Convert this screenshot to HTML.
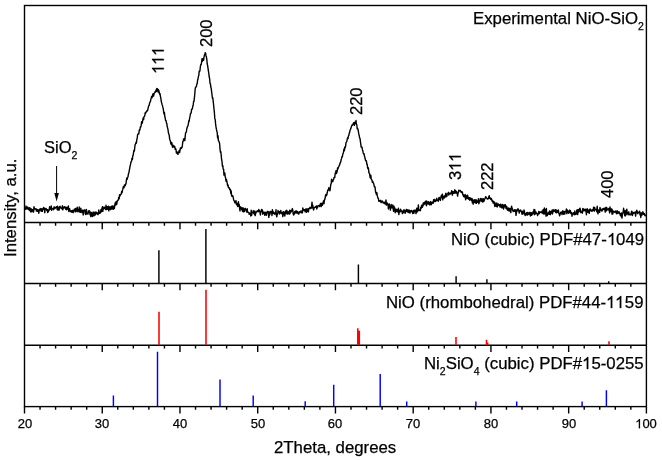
<!DOCTYPE html>
<html><head><meta charset="utf-8"><style>
html,body{margin:0;padding:0;background:#fff;}
body{width:662px;height:460px;overflow:hidden;position:relative;font-family:"Liberation Sans", sans-serif;color:#000;-webkit-text-stroke:0.25px #000;}
svg{position:absolute;left:0;top:0;}
.t{will-change:transform;position:absolute;white-space:nowrap;font-size:16.5px;line-height:1;}
.tl{will-change:transform;position:absolute;white-space:nowrap;font-size:13px;line-height:1;transform:translateX(-50%);}
.r{will-change:transform;position:absolute;white-space:nowrap;font-size:16.5px;line-height:1;transform-origin:0 0;transform:rotate(-90deg);}
.o1{width:0.5562em;height:0.71875em;vertical-align:baseline;fill:currentColor;display:inline-block;overflow:visible;position:static;}
.o1 path{stroke:currentColor;stroke-width:32;stroke-linejoin:round;}
sub{font-size:10.5px;vertical-align:baseline;position:relative;top:5.5px;line-height:0;}
.rt{font-size:16.8px;}
.yl{font-size:16.75px;}
</style></head><body>
<svg width="662" height="460" viewBox="0 0 662 460">
<rect x="24.5" y="5.5" width="621.90" height="401.10" fill="none" stroke="#000" stroke-width="1.4"/>
<line x1="24.5" y1="222.5" x2="646.4" y2="222.5" stroke="#000" stroke-width="1.4"/>
<line x1="24.5" y1="283.5" x2="646.4" y2="283.5" stroke="#000" stroke-width="1.4"/>
<line x1="24.5" y1="345.2" x2="646.4" y2="345.2" stroke="#000" stroke-width="1.4"/>
<path d="M40.05,222.5v3.2 M55.59,222.5v3.2 M71.14,222.5v3.2 M86.69,222.5v3.2 M102.24,222.5v6.8 M117.78,222.5v3.2 M133.33,222.5v3.2 M148.88,222.5v3.2 M164.43,222.5v3.2 M179.97,222.5v6.8 M195.52,222.5v3.2 M211.07,222.5v3.2 M226.62,222.5v3.2 M242.17,222.5v3.2 M257.71,222.5v6.8 M273.26,222.5v3.2 M288.81,222.5v3.2 M304.35,222.5v3.2 M319.90,222.5v3.2 M335.45,222.5v6.8 M351.00,222.5v3.2 M366.54,222.5v3.2 M382.09,222.5v3.2 M397.64,222.5v3.2 M413.19,222.5v6.8 M428.74,222.5v3.2 M444.28,222.5v3.2 M459.83,222.5v3.2 M475.38,222.5v3.2 M490.93,222.5v6.8 M506.47,222.5v3.2 M522.02,222.5v3.2 M537.57,222.5v3.2 M553.12,222.5v3.2 M568.66,222.5v6.8 M584.21,222.5v3.2 M599.76,222.5v3.2 M615.31,222.5v3.2 M630.85,222.5v3.2 M40.05,283.5v3.2 M55.59,283.5v3.2 M71.14,283.5v3.2 M86.69,283.5v3.2 M102.24,283.5v6.8 M117.78,283.5v3.2 M133.33,283.5v3.2 M148.88,283.5v3.2 M164.43,283.5v3.2 M179.97,283.5v6.8 M195.52,283.5v3.2 M211.07,283.5v3.2 M226.62,283.5v3.2 M242.17,283.5v3.2 M257.71,283.5v6.8 M273.26,283.5v3.2 M288.81,283.5v3.2 M304.35,283.5v3.2 M319.90,283.5v3.2 M335.45,283.5v6.8 M351.00,283.5v3.2 M366.54,283.5v3.2 M382.09,283.5v3.2 M397.64,283.5v3.2 M413.19,283.5v6.8 M428.74,283.5v3.2 M444.28,283.5v3.2 M459.83,283.5v3.2 M475.38,283.5v3.2 M490.93,283.5v6.8 M506.47,283.5v3.2 M522.02,283.5v3.2 M537.57,283.5v3.2 M553.12,283.5v3.2 M568.66,283.5v6.8 M584.21,283.5v3.2 M599.76,283.5v3.2 M615.31,283.5v3.2 M630.85,283.5v3.2 M40.05,345.2v3.2 M55.59,345.2v3.2 M71.14,345.2v3.2 M86.69,345.2v3.2 M102.24,345.2v6.8 M117.78,345.2v3.2 M133.33,345.2v3.2 M148.88,345.2v3.2 M164.43,345.2v3.2 M179.97,345.2v6.8 M195.52,345.2v3.2 M211.07,345.2v3.2 M226.62,345.2v3.2 M242.17,345.2v3.2 M257.71,345.2v6.8 M273.26,345.2v3.2 M288.81,345.2v3.2 M304.35,345.2v3.2 M319.90,345.2v3.2 M335.45,345.2v6.8 M351.00,345.2v3.2 M366.54,345.2v3.2 M382.09,345.2v3.2 M397.64,345.2v3.2 M413.19,345.2v6.8 M428.74,345.2v3.2 M444.28,345.2v3.2 M459.83,345.2v3.2 M475.38,345.2v3.2 M490.93,345.2v6.8 M506.47,345.2v3.2 M522.02,345.2v3.2 M537.57,345.2v3.2 M553.12,345.2v3.2 M568.66,345.2v6.8 M584.21,345.2v3.2 M599.76,345.2v3.2 M615.31,345.2v3.2 M630.85,345.2v3.2 M40.05,406.6v3.2 M55.59,406.6v3.2 M71.14,406.6v3.2 M86.69,406.6v3.2 M102.24,406.6v6.8 M117.78,406.6v3.2 M133.33,406.6v3.2 M148.88,406.6v3.2 M164.43,406.6v3.2 M179.97,406.6v6.8 M195.52,406.6v3.2 M211.07,406.6v3.2 M226.62,406.6v3.2 M242.17,406.6v3.2 M257.71,406.6v6.8 M273.26,406.6v3.2 M288.81,406.6v3.2 M304.35,406.6v3.2 M319.90,406.6v3.2 M335.45,406.6v6.8 M351.00,406.6v3.2 M366.54,406.6v3.2 M382.09,406.6v3.2 M397.64,406.6v3.2 M413.19,406.6v6.8 M428.74,406.6v3.2 M444.28,406.6v3.2 M459.83,406.6v3.2 M475.38,406.6v3.2 M490.93,406.6v6.8 M506.47,406.6v3.2 M522.02,406.6v3.2 M537.57,406.6v3.2 M553.12,406.6v3.2 M568.66,406.6v6.8 M584.21,406.6v3.2 M599.76,406.6v3.2 M615.31,406.6v3.2 M630.85,406.6v3.2 M24.50,406.6v6.8 M646.40,406.6v6.8" stroke="#000" stroke-width="1.4" fill="none"/>
<path d="M158.90,283.5V250.19 M205.90,283.5V228.90 M358.40,283.5V264.39 M456.10,283.5V276.18 M486.90,283.5V279.13 M608.70,283.5V281.32" stroke="#000" stroke-width="1.45" fill="none"/>
<path d="M159.00,345.2V311.79 M206.00,345.2V289.80 M357.80,345.2V328.25 M359.30,345.2V330.85 M456.00,345.2V337.11 M486.50,345.2V339.83 M487.60,345.2V342.43 M609.00,345.2V341.32" stroke="#ff0000" stroke-width="1.55" fill="none"/>
<path d="M113.40,406.6V395.62 M157.50,406.6V351.70 M220.00,406.6V379.59 M253.20,406.6V395.62 M305.20,406.6V401.22 M333.70,406.6V384.86 M380.20,406.6V373.99 M406.70,406.6V401.55 M475.90,406.6V401.55 M516.70,406.6V401.44 M582.10,406.6V401.44 M606.40,406.6V390.13" stroke="#0000ff" stroke-width="1.45" fill="none"/>
<path d="M24.80,208.21 25.20,209.28 25.60,208.69 26.00,206.02 26.40,208.93 26.80,208.79 27.20,208.66 27.60,206.86 28.00,208.79 28.40,209.64 28.80,209.67 29.20,207.66 29.60,210.61 30.00,207.97 30.40,209.59 30.80,212.01 31.20,208.83 31.60,209.14 32.00,211.71 32.40,209.76 32.80,209.76 33.20,210.52 33.60,211.96 34.00,206.71 34.40,209.04 34.80,208.95 35.20,208.63 35.60,208.97 36.00,209.05 36.40,210.99 36.80,209.20 37.20,210.54 37.60,211.31 38.00,209.60 38.40,210.80 38.80,213.26 39.20,210.78 39.60,209.15 40.00,210.02 40.40,208.56 40.80,210.27 41.20,211.34 41.60,208.76 42.00,209.48 42.40,211.29 42.80,208.62 43.20,209.46 43.60,207.43 44.00,207.78 44.40,208.41 44.80,212.80 45.20,208.87 45.60,208.63 46.00,208.37 46.40,209.01 46.80,210.38 47.20,209.72 47.60,212.49 48.00,209.95 48.40,211.84 48.80,209.87 49.20,210.14 49.60,206.80 50.00,208.99 50.40,209.19 50.80,208.91 51.20,205.83 51.60,210.39 52.00,208.63 52.40,208.45 52.80,208.78 53.20,208.60 53.60,209.74 54.00,206.88 54.40,207.09 54.80,208.65 55.20,208.13 55.60,207.32 56.00,207.22 56.40,206.71 56.80,207.59 57.20,209.50 57.60,206.13 58.00,210.25 58.40,209.19 58.80,207.67 59.20,210.00 59.60,206.54 60.00,206.33 60.40,207.03 60.80,207.90 61.20,208.26 61.60,207.99 62.00,209.10 62.40,205.72 62.80,209.81 63.20,206.90 63.60,207.97 64.00,208.01 64.40,206.92 64.80,206.72 65.20,206.99 65.60,208.86 66.00,209.52 66.40,209.79 66.80,207.18 67.20,207.64 67.60,207.50 68.00,209.50 68.40,205.97 68.80,211.57 69.20,209.16 69.60,208.65 70.00,210.73 70.40,211.56 70.80,211.00 71.20,211.94 71.60,210.70 72.00,212.19 72.40,212.14 72.80,210.17 73.20,212.59 73.60,210.43 74.00,210.52 74.40,209.07 74.80,210.01 75.20,211.81 75.60,208.37 76.00,211.54 76.40,211.07 76.80,211.09 77.20,207.18 77.60,210.56 78.00,211.84 78.40,209.62 78.80,210.67 79.20,206.95 79.60,212.07 80.00,209.87 80.40,212.37 80.80,208.12 81.20,211.91 81.60,210.69 82.00,212.60 82.40,210.11 82.80,210.27 83.20,214.99 83.60,210.33 84.00,210.52 84.40,210.86 84.80,209.79 85.20,213.58 85.60,214.51 86.00,211.08 86.40,209.41 86.80,213.98 87.20,213.84 87.60,213.67 88.00,214.13 88.40,211.05 88.80,212.24 89.20,210.73 89.60,211.03 90.00,214.74 90.40,212.16 90.80,216.65 91.20,213.35 91.60,212.49 92.00,214.90 92.40,216.53 92.80,214.61 93.20,212.02 93.60,214.65 94.00,215.91 94.40,212.97 94.80,212.17 95.20,215.14 95.60,213.95 96.00,211.87 96.40,213.06 96.80,212.63 97.20,213.93 97.60,213.14 98.00,214.68 98.40,213.58 98.80,209.99 99.20,212.87 99.60,213.46 100.00,212.19 100.40,212.93 100.80,210.23 101.20,209.15 101.60,211.72 102.00,208.55 102.40,206.77 102.80,211.42 103.20,208.61 103.60,208.88 104.00,207.03 104.40,207.27 104.80,207.81 105.20,208.72 105.60,209.59 106.00,205.24 106.40,209.59 106.80,206.62 107.20,206.72 107.60,209.25 108.00,208.12 108.40,206.29 108.80,210.90 109.20,206.77 109.60,208.16 110.00,208.04 110.40,209.55 110.80,206.67 111.20,208.96 111.60,206.15 112.00,208.93 112.40,205.87 112.80,206.46 113.20,209.35 113.60,206.69 114.00,205.89 114.40,208.47 114.80,204.84 115.20,202.87 115.60,205.06 116.00,201.77 116.40,204.60 116.80,204.09 117.20,201.13 117.60,200.14 118.00,200.41 118.40,199.47 118.80,197.11 119.20,198.72 119.60,194.68 120.00,196.13 120.40,194.91 120.80,194.28 121.20,194.27 121.60,191.58 122.00,192.78 122.40,190.75 122.80,189.15 123.20,187.02 123.60,186.57 124.00,187.78 124.40,184.87 124.80,185.32 125.20,185.80 125.60,184.16 126.00,183.85 126.40,180.05 126.80,178.05 127.20,179.44 127.60,177.24 128.00,177.00 128.40,173.82 128.80,173.25 129.20,170.85 129.60,168.76 130.00,166.45 130.40,164.94 130.80,162.82 131.20,161.57 131.60,161.12 132.00,158.12 132.40,159.41 132.80,155.65 133.20,155.15 133.60,152.13 134.00,150.24 134.40,151.02 134.80,147.01 135.20,144.46 135.60,143.81 136.00,142.31 136.40,143.21 136.80,139.42 137.20,138.49 137.60,134.66 138.00,134.62 138.40,133.58 138.80,133.80 139.20,130.31 139.60,130.61 140.00,129.26 140.40,126.81 140.80,126.97 141.20,125.44 141.60,121.80 142.00,123.56 142.40,122.37 142.80,119.93 143.20,117.85 143.60,119.64 144.00,116.74 144.40,116.26 144.80,115.67 145.20,112.78 145.60,113.29 146.00,111.93 146.40,111.87 146.80,111.25 147.20,110.40 147.60,110.66 148.00,108.65 148.40,106.93 148.80,105.65 149.20,105.48 149.60,102.84 150.00,102.13 150.40,101.62 150.80,99.56 151.20,98.18 151.60,96.52 152.00,97.87 152.40,96.24 152.80,94.39 153.20,93.70 153.60,96.07 154.00,93.80 154.40,92.97 154.80,92.52 155.20,91.57 155.60,91.99 156.00,89.89 156.40,91.40 156.80,88.42 157.20,90.17 157.60,88.95 158.00,91.99 158.40,89.76 158.80,90.37 159.20,92.52 159.60,94.18 160.00,93.64 160.40,96.37 160.80,97.67 161.20,101.03 161.60,102.57 162.00,104.18 162.40,105.38 162.80,107.18 163.20,108.29 163.60,111.35 164.00,113.99 164.40,112.40 164.80,116.49 165.20,118.12 165.60,120.45 166.00,120.45 166.40,122.91 166.80,123.32 167.20,126.61 167.60,127.85 168.00,129.66 168.40,132.56 168.80,134.23 169.20,134.91 169.60,138.73 170.00,140.02 170.40,140.96 170.80,143.48 171.20,144.51 171.60,142.44 172.00,143.45 172.40,146.88 172.80,147.49 173.20,145.44 173.60,145.54 174.00,146.38 174.40,147.19 174.80,146.59 175.20,149.31 175.60,148.53 176.00,149.55 176.40,152.96 176.80,151.73 177.20,152.75 177.60,154.15 178.00,154.36 178.40,152.06 178.80,152.14 179.20,150.34 179.60,152.50 180.00,150.34 180.40,147.85 180.80,148.23 181.20,148.50 181.60,147.13 182.00,147.61 182.40,145.27 182.80,141.73 183.20,141.25 183.60,138.86 184.00,139.96 184.40,138.58 184.80,140.66 185.20,136.62 185.60,132.80 186.00,132.43 186.40,131.77 186.80,128.51 187.20,127.44 187.60,126.31 188.00,125.75 188.40,123.53 188.80,120.82 189.20,121.24 189.60,118.22 190.00,116.40 190.40,114.07 190.80,113.11 191.20,112.97 191.60,109.18 192.00,109.23 192.40,108.85 192.80,106.01 193.20,104.94 193.60,101.51 194.00,101.35 194.40,97.85 194.80,93.75 195.20,88.85 195.60,87.11 196.00,87.01 196.40,86.37 196.80,84.10 197.20,83.70 197.60,80.23 198.00,78.71 198.40,76.63 198.80,75.23 199.20,71.13 199.60,71.62 200.00,70.28 200.40,66.37 200.80,64.54 201.20,64.61 201.60,62.08 202.00,58.81 202.40,61.21 202.80,59.63 203.20,58.46 203.60,60.24 204.00,57.28 204.40,55.16 204.80,54.66 205.20,52.61 205.60,53.08 206.00,55.70 206.40,56.81 206.80,59.38 207.20,63.70 207.60,65.42 208.00,68.07 208.40,70.79 208.80,73.51 209.20,77.00 209.60,78.40 210.00,83.19 210.40,83.69 210.80,86.99 211.20,88.40 211.60,91.64 212.00,94.76 212.40,98.11 212.80,97.75 213.20,101.43 213.60,104.98 214.00,109.03 214.40,112.68 214.80,118.40 215.20,119.46 215.60,123.89 216.00,126.90 216.40,129.15 216.80,131.10 217.20,132.36 217.60,137.88 218.00,135.62 218.40,140.57 218.80,141.07 219.20,142.14 219.60,143.35 220.00,148.63 220.40,152.14 220.80,151.60 221.20,155.17 221.60,159.52 222.00,161.31 222.40,166.22 222.80,165.56 223.20,169.24 223.60,169.14 224.00,175.10 224.40,173.44 224.80,172.94 225.20,176.87 225.60,177.83 226.00,181.29 226.40,179.45 226.80,181.17 227.20,183.09 227.60,185.74 228.00,184.88 228.40,187.33 228.80,187.96 229.20,187.67 229.60,189.16 230.00,190.03 230.40,189.43 230.80,193.48 231.20,191.06 231.60,195.61 232.00,196.33 232.40,195.76 232.80,195.63 233.20,197.54 233.60,199.41 234.00,200.91 234.40,200.94 234.80,202.70 235.20,201.36 235.60,202.91 236.00,200.60 236.40,204.52 236.80,203.85 237.20,203.55 237.60,206.47 238.00,206.28 238.40,201.64 238.80,206.11 239.20,204.36 239.60,208.48 240.00,210.93 240.40,206.74 240.80,207.71 241.20,207.47 241.60,209.08 242.00,209.87 242.40,211.09 242.80,207.61 243.20,211.84 243.60,208.36 244.00,210.10 244.40,211.65 244.80,210.89 245.20,208.32 245.60,209.00 246.00,209.65 246.40,210.20 246.80,212.09 247.20,208.71 247.60,212.10 248.00,212.31 248.40,212.37 248.80,212.59 249.20,214.22 249.60,213.07 250.00,214.08 250.40,213.89 250.80,215.95 251.20,210.20 251.60,215.35 252.00,212.88 252.40,212.79 252.80,211.95 253.20,210.64 253.60,213.16 254.00,212.80 254.40,214.43 254.80,210.93 255.20,215.60 255.60,213.55 256.00,212.85 256.40,211.82 256.80,211.48 257.20,210.72 257.60,211.30 258.00,211.72 258.40,211.39 258.80,209.47 259.20,211.48 259.60,210.61 260.00,212.16 260.40,214.97 260.80,212.51 261.20,211.27 261.60,209.34 262.00,209.88 262.40,209.85 262.80,214.21 263.20,211.95 263.60,213.17 264.00,212.15 264.40,213.29 264.80,215.35 265.20,212.08 265.60,213.37 266.00,212.63 266.40,215.19 266.80,212.11 267.20,211.89 267.60,211.30 268.00,211.46 268.40,214.25 268.80,217.43 269.20,211.85 269.60,215.08 270.00,214.01 270.40,211.33 270.80,212.54 271.20,212.68 271.60,211.84 272.00,215.56 272.40,209.66 272.80,213.15 273.20,213.32 273.60,211.84 274.00,213.21 274.40,214.22 274.80,213.09 275.20,213.61 275.60,214.05 276.00,209.69 276.40,215.25 276.80,216.85 277.20,214.65 277.60,214.46 278.00,210.54 278.40,212.59 278.80,211.45 279.20,211.73 279.60,213.94 280.00,211.45 280.40,212.99 280.80,210.45 281.20,213.32 281.60,213.63 282.00,212.56 282.40,212.64 282.80,216.57 283.20,211.72 283.60,211.86 284.00,212.17 284.40,215.11 284.80,216.07 285.20,212.98 285.60,210.85 286.00,211.23 286.40,213.54 286.80,210.24 287.20,213.88 287.60,214.01 288.00,211.70 288.40,212.43 288.80,212.52 289.20,214.17 289.60,210.27 290.00,213.51 290.40,211.11 290.80,210.46 291.20,211.88 291.60,211.02 292.00,209.69 292.40,208.59 292.80,210.15 293.20,214.09 293.60,215.02 294.00,212.89 294.40,214.05 294.80,211.46 295.20,212.13 295.60,212.91 296.00,210.74 296.40,211.23 296.80,213.00 297.20,212.70 297.60,211.40 298.00,213.57 298.40,212.65 298.80,214.17 299.20,212.30 299.60,211.80 300.00,212.54 300.40,211.94 300.80,210.99 301.20,210.97 301.60,212.85 302.00,212.21 302.40,212.83 302.80,207.98 303.20,209.77 303.60,209.64 304.00,210.59 304.40,209.64 304.80,209.60 305.20,211.75 305.60,210.82 306.00,208.68 306.40,212.28 306.80,211.63 307.20,209.13 307.60,211.35 308.00,208.61 308.40,211.80 308.80,209.19 309.20,208.15 309.60,208.43 310.00,207.27 310.40,208.51 310.80,208.48 311.20,208.11 311.60,206.93 312.00,202.12 312.40,207.87 312.80,205.30 313.20,208.48 313.60,209.95 314.00,208.31 314.40,207.36 314.80,207.51 315.20,207.39 315.60,206.62 316.00,206.50 316.40,206.02 316.80,208.97 317.20,206.55 317.60,207.45 318.00,205.65 318.40,205.83 318.80,205.37 319.20,205.99 319.60,206.48 320.00,205.28 320.40,203.71 320.80,203.37 321.20,206.66 321.60,203.39 322.00,203.26 322.40,205.22 322.80,203.78 323.20,202.37 323.60,200.75 324.00,203.66 324.40,199.95 324.80,199.49 325.20,197.77 325.60,195.09 326.00,194.50 326.40,195.76 326.80,194.72 327.20,193.03 327.60,190.77 328.00,189.73 328.40,190.04 328.80,187.68 329.20,190.12 329.60,189.51 330.00,190.74 330.40,187.28 330.80,184.31 331.20,183.57 331.60,179.10 332.00,181.72 332.40,181.26 332.80,181.51 333.20,179.99 333.60,179.34 334.00,177.80 334.40,177.29 334.80,177.52 335.20,173.23 335.60,173.04 336.00,170.64 336.40,173.60 336.80,172.46 337.20,171.11 337.60,167.90 338.00,168.87 338.40,167.33 338.80,166.54 339.20,165.42 339.60,165.03 340.00,162.84 340.40,162.98 340.80,161.36 341.20,159.50 341.60,158.38 342.00,156.36 342.40,156.58 342.80,154.01 343.20,153.31 343.60,151.54 344.00,148.98 344.40,150.68 344.80,146.95 345.20,147.85 345.60,146.06 346.00,142.63 346.40,142.05 346.80,141.30 347.20,139.45 347.60,137.80 348.00,138.57 348.40,136.07 348.80,135.60 349.20,133.19 349.60,132.72 350.00,130.29 350.40,129.52 350.80,128.60 351.20,127.27 351.60,126.11 352.00,124.87 352.40,125.18 352.80,124.83 353.20,123.76 353.60,122.72 354.00,123.75 354.40,125.35 354.80,122.13 355.20,122.98 355.60,123.28 356.00,120.55 356.40,124.48 356.80,124.72 357.20,128.72 357.60,128.35 358.00,129.39 358.40,131.58 358.80,133.88 359.20,135.50 359.60,137.97 360.00,138.29 360.40,141.41 360.80,144.29 361.20,147.08 361.60,146.85 362.00,147.23 362.40,149.66 362.80,150.70 363.20,152.99 363.60,154.01 364.00,153.75 364.40,155.76 364.80,157.13 365.20,158.99 365.60,160.69 366.00,160.90 366.40,160.81 366.80,164.18 367.20,164.10 367.60,167.74 368.00,168.84 368.40,167.82 368.80,172.05 369.20,173.29 369.60,173.75 370.00,176.78 370.40,177.96 370.80,175.10 371.20,178.98 371.60,179.41 372.00,180.47 372.40,182.36 372.80,181.40 373.20,182.82 373.60,183.45 374.00,184.86 374.40,186.75 374.80,186.38 375.20,188.50 375.60,192.25 376.00,192.68 376.40,194.57 376.80,192.41 377.20,195.17 377.60,196.83 378.00,198.25 378.40,198.48 378.80,201.21 379.20,200.67 379.60,200.92 380.00,200.70 380.40,201.65 380.80,200.31 381.20,202.64 381.60,201.91 382.00,201.54 382.40,200.96 382.80,202.16 383.20,202.98 383.60,203.07 384.00,202.20 384.40,203.22 384.80,202.36 385.20,204.10 385.60,202.44 386.00,200.04 386.40,205.15 386.80,204.13 387.20,202.98 387.60,204.57 388.00,204.14 388.40,208.97 388.80,206.78 389.20,203.82 389.60,207.45 390.00,206.55 390.40,210.14 390.80,205.76 391.20,204.47 391.60,207.82 392.00,207.53 392.40,207.77 392.80,205.06 393.20,209.03 393.60,211.29 394.00,206.10 394.40,210.67 394.80,207.92 395.20,212.73 395.60,209.94 396.00,209.16 396.40,211.57 396.80,210.87 397.20,209.67 397.60,211.75 398.00,210.21 398.40,208.30 398.80,214.55 399.20,211.34 399.60,210.79 400.00,212.00 400.40,209.23 400.80,209.62 401.20,210.95 401.60,210.90 402.00,211.61 402.40,213.55 402.80,211.01 403.20,212.78 403.60,212.34 404.00,209.60 404.40,211.83 404.80,210.36 405.20,213.38 405.60,212.22 406.00,211.52 406.40,209.32 406.80,211.40 407.20,209.68 407.60,211.98 408.00,210.59 408.40,210.00 408.80,212.54 409.20,212.52 409.60,210.29 410.00,213.01 410.40,210.93 410.80,210.99 411.20,211.70 411.60,210.37 412.00,210.98 412.40,211.31 412.80,213.56 413.20,213.36 413.60,210.46 414.00,213.10 414.40,210.27 414.80,210.85 415.20,211.44 415.60,210.15 416.00,213.61 416.40,210.23 416.80,208.19 417.20,211.96 417.60,209.22 418.00,208.99 418.40,204.89 418.80,210.69 419.20,210.38 419.60,210.07 420.00,209.81 420.40,210.70 420.80,207.20 421.20,208.44 421.60,205.27 422.00,205.33 422.40,207.23 422.80,206.09 423.20,202.98 423.60,204.94 424.00,203.69 424.40,202.25 424.80,204.02 425.20,202.89 425.60,201.21 426.00,201.80 426.40,205.79 426.80,201.02 427.20,203.42 427.60,203.80 428.00,204.04 428.40,201.74 428.80,203.13 429.20,204.01 429.60,204.82 430.00,202.40 430.40,201.60 430.80,204.60 431.20,204.78 431.60,203.76 432.00,201.90 432.40,203.16 432.80,202.60 433.20,203.14 433.60,199.80 434.00,201.54 434.40,200.92 434.80,199.32 435.20,201.50 435.60,201.14 436.00,200.18 436.40,200.77 436.80,198.27 437.20,200.28 437.60,200.55 438.00,200.11 438.40,201.29 438.80,197.98 439.20,197.41 439.60,199.37 440.00,198.71 440.40,200.43 440.80,197.80 441.20,195.62 441.60,197.62 442.00,194.89 442.40,194.13 442.80,199.90 443.20,196.16 443.60,196.51 444.00,196.37 444.40,198.00 444.80,195.80 445.20,197.02 445.60,193.83 446.00,193.28 446.40,196.74 446.80,196.39 447.20,194.55 447.60,193.78 448.00,193.75 448.40,192.32 448.80,195.03 449.20,193.96 449.60,193.40 450.00,193.09 450.40,194.00 450.80,192.89 451.20,193.48 451.60,190.74 452.00,192.85 452.40,195.17 452.80,191.36 453.20,191.61 453.60,193.24 454.00,193.38 454.40,192.90 454.80,189.76 455.20,193.03 455.60,190.72 456.00,191.12 456.40,193.02 456.80,191.82 457.20,193.12 457.60,196.12 458.00,193.11 458.40,192.72 458.80,190.23 459.20,190.85 459.60,190.52 460.00,191.06 460.40,190.48 460.80,191.53 461.20,192.56 461.60,191.93 462.00,191.73 462.40,192.18 462.80,194.83 463.20,194.58 463.60,196.40 464.00,196.72 464.40,195.30 464.80,197.16 465.20,194.43 465.60,199.72 466.00,198.37 466.40,196.69 466.80,195.53 467.20,198.21 467.60,195.28 468.00,196.85 468.40,199.12 468.80,198.36 469.20,197.68 469.60,200.18 470.00,197.79 470.40,199.71 470.80,198.68 471.20,198.48 471.60,200.57 472.00,198.35 472.40,202.82 472.80,200.06 473.20,204.11 473.60,200.09 474.00,202.63 474.40,200.03 474.80,199.69 475.20,201.96 475.60,202.91 476.00,199.76 476.40,203.30 476.80,200.55 477.20,202.17 477.60,202.08 478.00,202.25 478.40,198.82 478.80,203.76 479.20,202.29 479.60,200.83 480.00,199.91 480.40,198.56 480.80,198.92 481.20,201.62 481.60,200.22 482.00,198.44 482.40,199.26 482.80,202.15 483.20,199.43 483.60,198.78 484.00,201.22 484.40,199.62 484.80,198.85 485.20,198.32 485.60,196.66 486.00,196.95 486.40,197.84 486.80,198.19 487.20,198.82 487.60,199.04 488.00,198.51 488.40,198.68 488.80,196.84 489.20,195.70 489.60,198.30 490.00,197.57 490.40,198.61 490.80,199.53 491.20,198.48 491.60,198.88 492.00,200.84 492.40,201.58 492.80,200.89 493.20,203.03 493.60,202.51 494.00,201.60 494.40,203.66 494.80,206.45 495.20,202.99 495.60,205.73 496.00,206.09 496.40,206.31 496.80,202.86 497.20,207.02 497.60,204.38 498.00,203.94 498.40,204.14 498.80,205.51 499.20,204.59 499.60,204.69 500.00,206.93 500.40,204.30 500.80,204.32 501.20,207.45 501.60,207.37 502.00,207.96 502.40,204.51 502.80,207.49 503.20,206.95 503.60,209.05 504.00,204.59 504.40,206.94 504.80,206.57 505.20,204.59 505.60,205.64 506.00,208.49 506.40,206.53 506.80,206.53 507.20,209.49 507.60,210.20 508.00,210.33 508.40,207.99 508.80,209.58 509.20,211.03 509.60,208.41 510.00,208.53 510.40,211.12 510.80,212.59 511.20,208.53 511.60,206.24 512.00,208.20 512.40,208.95 512.80,210.30 513.20,211.56 513.60,210.63 514.00,210.24 514.40,211.35 514.80,209.61 515.20,211.14 515.60,210.02 516.00,215.34 516.40,212.86 516.80,210.06 517.20,209.60 517.60,210.82 518.00,208.80 518.40,209.93 518.80,209.98 519.20,213.04 519.60,211.06 520.00,210.77 520.40,210.06 520.80,210.22 521.20,211.88 521.60,211.92 522.00,214.21 522.40,211.24 522.80,214.04 523.20,213.50 523.60,213.01 524.00,210.05 524.40,211.32 524.80,214.41 525.20,215.63 525.60,213.99 526.00,215.01 526.40,213.06 526.80,213.08 527.20,212.45 527.60,215.10 528.00,213.71 528.40,213.10 528.80,212.78 529.20,214.34 529.60,214.23 530.00,212.33 530.40,215.98 530.80,213.30 531.20,212.64 531.60,215.32 532.00,214.57 532.40,212.94 532.80,213.93 533.20,211.46 533.60,212.24 534.00,209.51 534.40,214.75 534.80,209.82 535.20,214.17 535.60,211.89 536.00,211.87 536.40,213.11 536.80,213.69 537.20,214.06 537.60,215.63 538.00,213.13 538.40,213.91 538.80,211.56 539.20,213.76 539.60,212.59 540.00,211.74 540.40,212.29 540.80,212.42 541.20,212.57 541.60,212.74 542.00,211.12 542.40,210.92 542.80,213.45 543.20,209.50 543.60,211.22 544.00,214.26 544.40,208.03 544.80,211.29 545.20,213.55 545.60,209.74 546.00,216.13 546.40,208.54 546.80,215.42 547.20,215.69 547.60,214.64 548.00,212.90 548.40,213.61 548.80,212.09 549.20,214.35 549.60,211.00 550.00,212.37 550.40,214.55 550.80,211.56 551.20,212.66 551.60,212.95 552.00,210.27 552.40,214.02 552.80,212.53 553.20,209.57 553.60,211.47 554.00,210.45 554.40,210.39 554.80,211.31 555.20,209.69 555.60,212.31 556.00,209.70 556.40,212.82 556.80,211.19 557.20,212.51 557.60,210.58 558.00,210.83 558.40,209.98 558.80,213.08 559.20,213.91 559.60,215.82 560.00,214.57 560.40,212.96 560.80,212.21 561.20,212.61 561.60,212.03 562.00,214.57 562.40,213.68 562.80,210.80 563.20,211.18 563.60,214.23 564.00,212.32 564.40,211.60 564.80,214.10 565.20,211.47 565.60,211.24 566.00,211.12 566.40,209.02 566.80,213.63 567.20,209.92 567.60,211.44 568.00,210.88 568.40,213.25 568.80,212.46 569.20,212.79 569.60,210.07 570.00,212.47 570.40,210.72 570.80,213.44 571.20,213.00 571.60,212.57 572.00,216.26 572.40,213.73 572.80,213.86 573.20,213.21 573.60,212.72 574.00,214.62 574.40,214.79 574.80,210.99 575.20,214.55 575.60,213.45 576.00,214.26 576.40,213.04 576.80,210.07 577.20,209.85 577.60,214.66 578.00,212.25 578.40,209.57 578.80,212.07 579.20,211.14 579.60,208.86 580.00,208.11 580.40,209.65 580.80,212.62 581.20,212.02 581.60,211.60 582.00,212.44 582.40,213.16 582.80,208.48 583.20,211.07 583.60,210.07 584.00,209.03 584.40,209.98 584.80,210.88 585.20,210.84 585.60,209.23 586.00,210.62 586.40,214.78 586.80,209.90 587.20,208.74 587.60,211.91 588.00,212.37 588.40,212.36 588.80,209.95 589.20,213.32 589.60,210.01 590.00,208.98 590.40,209.43 590.80,210.24 591.20,211.19 591.60,211.06 592.00,209.95 592.40,211.09 592.80,209.55 593.20,210.50 593.60,207.12 594.00,207.13 594.40,211.09 594.80,207.73 595.20,209.80 595.60,209.83 596.00,209.57 596.40,209.44 596.80,211.70 597.20,206.29 597.60,211.83 598.00,213.91 598.40,210.30 598.80,209.89 599.20,210.88 599.60,212.36 600.00,207.41 600.40,209.67 600.80,209.05 601.20,210.48 601.60,210.33 602.00,211.04 602.40,209.03 602.80,209.95 603.20,208.53 603.60,208.37 604.00,209.36 604.40,209.45 604.80,208.07 605.20,212.16 605.60,209.36 606.00,207.22 606.40,210.91 606.80,207.64 607.20,209.79 607.60,209.07 608.00,209.72 608.40,209.71 608.80,208.48 609.20,209.64 609.60,212.85 610.00,206.84 610.40,210.76 610.80,211.46 611.20,209.32 611.60,208.86 612.00,214.11 612.40,210.05 612.80,213.94 613.20,211.73 613.60,211.18 614.00,211.84 614.40,211.98 614.80,212.30 615.20,211.36 615.60,211.09 616.00,211.54 616.40,213.71 616.80,213.34 617.20,210.70 617.60,211.50 618.00,213.56 618.40,211.81 618.80,212.49 619.20,211.94 619.60,213.33 620.00,214.31 620.40,215.38 620.80,213.49 621.20,216.72 621.60,213.02 622.00,218.13 622.40,214.53 622.80,213.33 623.20,212.03 623.60,208.30 624.00,212.06 624.40,212.88 624.80,215.75 625.20,210.50 625.60,215.78 626.00,212.32 626.40,214.12 626.80,209.15 627.20,213.21 627.60,212.60 628.00,214.68 628.40,213.37 628.80,211.82 629.20,214.87 629.60,214.27 630.00,214.22 630.40,214.74 630.80,214.93 631.20,213.31 631.60,211.10 632.00,211.27 632.40,215.50 632.80,213.95 633.20,213.54 633.60,212.38 634.00,213.21 634.40,213.02 634.80,212.34 635.20,211.96 635.60,216.08 636.00,212.80 636.40,211.36 636.80,210.28 637.20,211.46 637.60,213.68 638.00,213.34 638.40,212.20 638.80,212.54 639.20,212.46 639.60,211.15 640.00,214.90 640.40,213.86 640.80,217.45 641.20,212.64 641.60,213.74 642.00,215.16 642.40,213.55 642.80,211.82 643.20,212.64 643.60,214.33 644.00,214.32 644.40,213.51 644.80,215.57 645.20,215.69 645.60,214.41" stroke="#000" stroke-width="1.4" fill="none" stroke-linejoin="round"/>
<path d="M56.6,166 V196" stroke="#000" stroke-width="1"/>
<path d="M54.3,193 L56.6,201.5 L58.9,193 Z" fill="#000"/>
</svg>
<div class="t rt" style="right:18.3px;top:10.5px">Experimental NiO-SiO<sub>2</sub></div>
<div class="t" style="left:44px;top:139.2px">SiO<sub>2</sub></div>
<div class="r" style="left:150px;top:74px"><svg class="o1" viewBox="0 -1472 1139 1472"><path transform="scale(1,-1)" d="M763,0L583,0L583,1147Q518,1085 412,1023T223,930L223,1104Q373,1175 485,1276T645,1472L763,1472Z"/></svg><svg class="o1" viewBox="0 -1472 1139 1472"><path transform="scale(1,-1)" d="M763,0L583,0L583,1147Q518,1085 412,1023T223,930L223,1104Q373,1175 485,1276T645,1472L763,1472Z"/></svg><svg class="o1" viewBox="0 -1472 1139 1472"><path transform="scale(1,-1)" d="M763,0L583,0L583,1147Q518,1085 412,1023T223,930L223,1104Q373,1175 485,1276T645,1472L763,1472Z"/></svg></div>
<div class="r" style="left:198px;top:47px">200</div>
<div class="r" style="left:348px;top:115px">220</div>
<div class="r" style="left:447px;top:179.5px">3<svg class="o1" viewBox="0 -1472 1139 1472"><path transform="scale(1,-1)" d="M763,0L583,0L583,1147Q518,1085 412,1023T223,930L223,1104Q373,1175 485,1276T645,1472L763,1472Z"/></svg><svg class="o1" viewBox="0 -1472 1139 1472"><path transform="scale(1,-1)" d="M763,0L583,0L583,1147Q518,1085 412,1023T223,930L223,1104Q373,1175 485,1276T645,1472L763,1472Z"/></svg></div>
<div class="r" style="left:479px;top:189.5px">222</div>
<div class="r" style="left:599px;top:198.3px">400</div>
<div class="r yl" style="left:2.9px;top:257.2px">Intensity, a.u.</div>
<div class="t rt" style="right:18.3px;top:232px">NiO (cubic) PDF#47-<svg class="o1" viewBox="0 -1472 1139 1472"><path transform="scale(1,-1)" d="M763,0L583,0L583,1147Q518,1085 412,1023T223,930L223,1104Q373,1175 485,1276T645,1472L763,1472Z"/></svg>049</div>
<div class="t rt" style="right:18.3px;top:294.5px">NiO (rhombohedral) PDF#44-<svg class="o1" viewBox="0 -1472 1139 1472"><path transform="scale(1,-1)" d="M763,0L583,0L583,1147Q518,1085 412,1023T223,930L223,1104Q373,1175 485,1276T645,1472L763,1472Z"/></svg><svg class="o1" viewBox="0 -1472 1139 1472"><path transform="scale(1,-1)" d="M763,0L583,0L583,1147Q518,1085 412,1023T223,930L223,1104Q373,1175 485,1276T645,1472L763,1472Z"/></svg>59</div>
<div class="t rt" style="right:18.3px;top:356px">Ni<sub>2</sub>SiO<sub>4</sub> (cubic) PDF#<svg class="o1" viewBox="0 -1472 1139 1472"><path transform="scale(1,-1)" d="M763,0L583,0L583,1147Q518,1085 412,1023T223,930L223,1104Q373,1175 485,1276T645,1472L763,1472Z"/></svg>5-0255</div>
<div class="t rt" style="left:274px;top:439.7px">2Theta, degrees</div>
<div class="tl" style="left:24.5px;top:416.5px">20</div>
<div class="tl" style="left:102.2px;top:416.5px">30</div>
<div class="tl" style="left:180.0px;top:416.5px">40</div>
<div class="tl" style="left:257.7px;top:416.5px">50</div>
<div class="tl" style="left:335.4px;top:416.5px">60</div>
<div class="tl" style="left:413.2px;top:416.5px">70</div>
<div class="tl" style="left:490.9px;top:416.5px">80</div>
<div class="tl" style="left:568.7px;top:416.5px">90</div>
<div class="tl" style="left:646.4px;top:416.5px"><svg class="o1" viewBox="0 -1472 1139 1472"><path transform="scale(1,-1)" d="M763,0L583,0L583,1147Q518,1085 412,1023T223,930L223,1104Q373,1175 485,1276T645,1472L763,1472Z"/></svg>00</div>
</body></html>
